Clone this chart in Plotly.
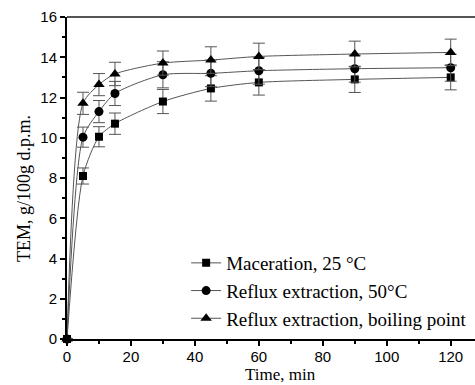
import plotly.graph_objects as go

time_min = [0, 5, 10, 15, 30, 45, 60, 90, 120]
maceration = [0, 8.1, 10.05, 10.7, 11.8, 12.45, 12.75, 12.9, 13.0]
maceration_err = [0, 0.4, 0.5, 0.53, 0.6, 0.63, 0.63, 0.65, 0.62]
reflux50 = [0, 10.03, 11.3, 12.2, 13.13, 13.2, 13.33, 13.43, 13.48]
reflux50_err = [0, 0.5, 0.55, 0.6, 0.65, 0.66, 0.67, 0.67, 0.67]
boiling = [0, 11.71, 12.64, 13.17, 13.71, 13.86, 14.04, 14.16, 14.24]
boiling_err = [0, 0.55, 0.55, 0.58, 0.6, 0.66, 0.66, 0.64, 0.66]

names = ["Maceration, 25 \u00b0C", "Reflux extraction, 50\u00b0C", "Reflux extraction, boiling point"]
symbols = ["square", "circle", "triangle-up"]
sizes = [8, 9, 10]
series = [(maceration, maceration_err), (reflux50, reflux50_err), (boiling, boiling_err)]

SERIF = "Liberation Serif, Times New Roman, serif"

fig = go.Figure()
for (vals, errs), nm, sym, sz in zip(series, names, symbols, sizes):
    fig.add_trace(go.Scatter(
        x=time_min, y=vals, name=nm, mode="lines+markers",
        line=dict(color="#555555", width=1, shape="spline", smoothing=0.7),
        marker=dict(symbol=sym, size=sz, color="black"),
        error_y=dict(type="data", array=errs, visible=True, color="#555555", thickness=1, width=6),
        cliponaxis=False,
    ))

fig.update_layout(
    width=475, height=385,
    margin=dict(l=67, r=0, t=17, b=46),
    paper_bgcolor="white", plot_bgcolor="white",
    font=dict(family=SERIF, color="black"),
    showlegend=True,
    legend=dict(x=0.292, y=0.295, xanchor="left", yanchor="top",
                font=dict(family=SERIF, size=19, color="black"),
                bgcolor="rgba(0,0,0,0)", tracegroupgap=0, itemwidth=30),
    xaxis=dict(range=[0, 127.6], tickvals=[0, 20, 40, 60, 80, 100, 120],
               showline=True, linecolor="black", linewidth=2, ticks="outside", ticklen=5, tickwidth=1.5,
               tickcolor="black", showgrid=False, zeroline=False, ticklabelstandoff=-2,
               tickfont=dict(family="Liberation Sans", size=15, color="black"),
               minor=dict(tickvals=[10, 30, 50, 70, 90, 110], ticks="outside", ticklen=3, tickcolor="black", tickwidth=1.5)),
    yaxis=dict(range=[0, 16], tickvals=[0, 2, 4, 6, 8, 10, 12, 14, 16],
               showline=True, linecolor="black", linewidth=2, ticks="outside", ticklen=5, tickwidth=1.5,
               tickcolor="black", showgrid=False, zeroline=False,
               tickfont=dict(family="Liberation Sans", size=15, color="black"),
               minor=dict(tickvals=[1, 3, 5, 7, 9, 11, 13, 15], ticks="outside", ticklen=3, tickcolor="black", tickwidth=1.5)),
    annotations=[
        dict(text="Time, min", xref="paper", yref="paper", x=(280 - 67) / 408, y=-(385 - 339) / 322,
             xanchor="center", yanchor="bottom", showarrow=False, borderpad=0,
             font=dict(family=SERIF, size=17, color="black")),
        dict(text="TEM, g/100g d.p.m.", xref="paper", yref="paper", x=(24 - 67) / 408, y=(339 - 189) / 322,
             xanchor="center", yanchor="middle", showarrow=False, textangle=-90,
             font=dict(family=SERIF, size=18, color="black")),
    ],
    shapes=[dict(type="line", xref="paper", yref="paper", x0=0, x1=1, y0=1, y1=1,
                 line=dict(color="#555555", width=2))],
)

fig.write_html("out.html")
